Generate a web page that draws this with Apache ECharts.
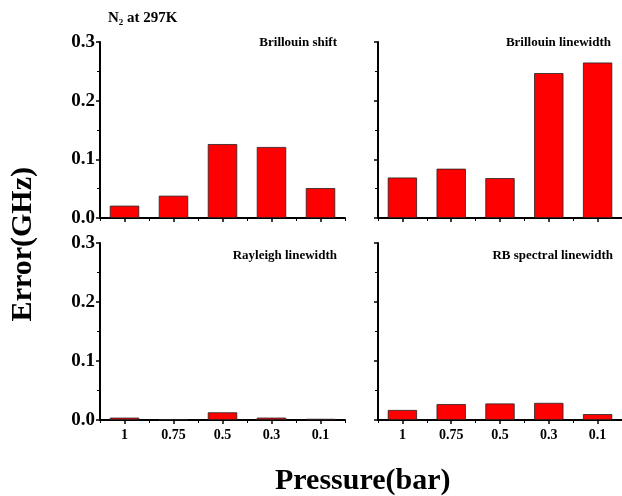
<!DOCTYPE html>
<html>
<head>
<meta charset="utf-8">
<script src="https://cdn.jsdelivr.net/npm/echarts@6/dist/echarts.min.js"></script>
<style>html,body{margin:0;padding:0;background:#fff}#c{width:622px;height:496px}</style>
</head>
<body>
<div id="c"></div>
<script>
const categories = ['1', '0.75', '0.5', '0.3', '0.1'];
const brillouinShift = [0.021, 0.038, 0.126, 0.121, 0.051];
const brillouinLinewidth = [0.069, 0.084, 0.068, 0.247, 0.265];
const rayleighLinewidth = [0.004, 0.001, 0.013, 0.004, 0.002];
const rbSpectralLinewidth = [0.017, 0.027, 0.028, 0.029, 0.010];
const panelTitles = ['Brillouin shift', 'Brillouin linewidth', 'Rayleigh linewidth', 'RB spectral linewidth'];
const seriesData = [brillouinShift, brillouinLinewidth, rayleighLinewidth, rbSpectralLinewidth];
const yMin = 0, yMax = 0.3, yStep = 0.1;

const FONT = '"Liberation Serif", "Times New Roman", serif';
const grids = [
  {left: 100, top: 42, width: 245, height: 176},
  {left: 378, top: 42, width: 244, height: 176},
  {left: 100, top: 243, width: 245, height: 177},
  {left: 378, top: 243, width: 244, height: 177}
];
const xAxis = [], yAxis = [], series = [];
grids.forEach((g, i) => {
  const bottomRow = i >= 2;
  const leftCol = i % 2 === 0;
  xAxis.push({
    type: 'category', gridIndex: i, data: categories,
    axisLine: {lineStyle: {color: '#000', width: 2}},
    axisTick: {show: true, alignWithLabel: true, length: 4, lineStyle: {color: '#000', width: 1.5}},
    axisLabel: {show: bottomRow, color: '#000', fontFamily: FONT, fontWeight: 'bold', fontSize: 14, margin: 8}
  });
  xAxis.push({
    type: 'category', gridIndex: i, data: categories, position: 'bottom',
    axisLine: {show: false},
    axisTick: {show: true, alignWithLabel: false, length: 3, lineStyle: {color: '#000', width: 1}},
    axisLabel: {show: false}
  });
  yAxis.push({
    type: 'value', gridIndex: i, min: yMin, max: yMax, interval: yStep,
    splitLine: {show: false},
    axisLine: {show: true, lineStyle: {color: '#000', width: 2}},
    axisTick: {show: true, length: 4, lineStyle: {color: '#000', width: 1.5}},
    minorTick: {show: true, splitNumber: 2, length: 3, lineStyle: {color: '#000', width: 1}},
    axisLabel: {show: leftCol, color: '#000', fontFamily: FONT, fontWeight: 'bold', fontSize: 19, margin: 5,
      formatter: v => v.toFixed(1)}
  });
  series.push({
    type: 'bar', xAxisIndex: i * 2, yAxisIndex: i, data: seriesData[i], barWidth: '60%',
    itemStyle: {color: '#ff0000', borderColor: '#222', borderWidth: 0.8},
    silent: true
  });
});

const titlePos = [
  {right: 622 - 337, top: 36},
  {right: 622 - 611, top: 36},
  {right: 622 - 337, top: 249},
  {right: 622 - 613, top: 249}
];
const titles = panelTitles.map((t, i) => Object.assign({
  text: t, textStyle: {fontFamily: FONT, fontWeight: 'bold', fontSize: 13, color: '#000'}, padding: 0
}, titlePos[i]));
titles.push({
  text: 'N{s|2} at 297K', left: 108, top: 10, padding: 0,
  textStyle: {fontFamily: FONT, fontWeight: 'bold', fontSize: 15, color: '#000',
    rich: {s: {fontFamily: FONT, fontWeight: 'bold', fontSize: 9, color: '#000', verticalAlign: 'bottom', padding: [8, 0, 0, 0]}}}
});

const chart = echarts.init(document.getElementById('c'), null, {renderer: 'canvas'});
chart.setOption({
  animation: false,
  backgroundColor: '#fff',
  title: titles,
  grid: grids,
  xAxis: xAxis,
  yAxis: yAxis,
  series: series,
  graphic: [
    {type: 'text', left: 8, top: 167, rotation: Math.PI / 2, originX: 0, originY: 0,
      style: {text: 'Error(GHz)', font: 'bold 30px ' + FONT, fill: '#000'}},
    {type: 'text', left: 275, top: 466,
      style: {text: 'Pressure(bar)', font: 'bold 30px ' + FONT, fill: '#000'}}
  ]
});
</script>
</body>
</html>
